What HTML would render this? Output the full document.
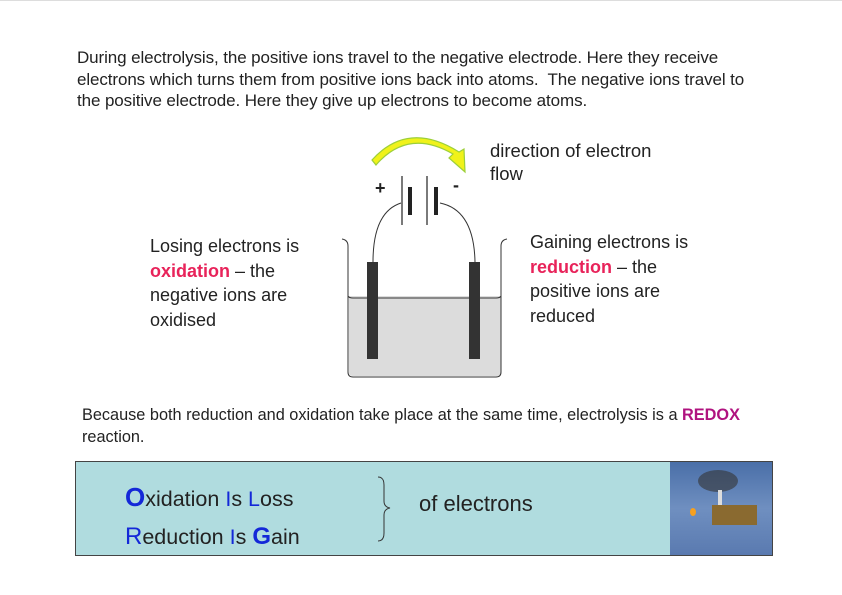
<!DOCTYPE html>
<html><head><style>
body{margin:0;width:842px;height:595px;background:#fff;position:relative;font-family:"Liberation Sans",sans-serif;color:#222;overflow:hidden}
.t{position:absolute;font-size:17px;line-height:21.5px;white-space:nowrap}
.b{font-weight:bold}
</style></head><body>
<div style="position:absolute;left:0;top:0;width:842px;height:1px;background:#ddd"></div>
<div class="t" style="left:77px;top:47px;letter-spacing:-0.1px">During electrolysis, the positive ions travel to the negative electrode. Here they receive<br>electrons which turns them from positive ions back into atoms.&nbsp; The negative ions travel to<br>the positive electrode. Here they give up electrons to become atoms.</div>
<div class="t" style="left:490px;top:139px;font-size:18.5px;line-height:23px">direction of electron<br>flow</div>
<div class="t" style="left:150px;top:234px;font-size:18px;line-height:24.5px">Losing electrons is<br><span class="b" style="color:#e8235a">oxidation</span> – the<br>negative ions are<br>oxidised</div>
<div class="t" style="left:530px;top:230px;font-size:18px;line-height:24.5px">Gaining electrons is<br><span class="b" style="color:#e8235a">reduction</span> – the<br>positive ions are<br>reduced</div>
<svg style="position:absolute;left:0;top:0" width="842" height="595">
<path d="M349 296 L349 372 Q349 376 353 376 L497 376 Q501 376 501 372 L501 296 Z" fill="#dcdcdc"/>
<path d="M342 239 Q348 240 348 246 L348 372 Q348 377 353 377 L496 377 Q501 377 501 372 L501 246 Q501 240 507 239" fill="none" stroke="#333" stroke-width="1"/>
<path d="M348 296 Q349 298 353 298 L496 298 Q500 298 501 296" fill="none" stroke="#333" stroke-width="1"/>
<rect x="367" y="262" width="11" height="97" fill="#333"/>
<rect x="469" y="262" width="11" height="97" fill="#333"/>
<path d="M373 262 Q373 212 401 203" fill="none" stroke="#333"/>
<path d="M440 203 Q474 210 475 262" fill="none" stroke="#333"/>
<line x1="402" y1="176" x2="402" y2="225" stroke="#333" stroke-width="1.3"/>
<rect x="408" y="187" width="4" height="28" fill="#222"/>
<line x1="427" y1="176" x2="427" y2="225" stroke="#333" stroke-width="1.3"/>
<rect x="434" y="187" width="4" height="28" fill="#222"/>
<text x="375" y="194" font-size="18" font-weight="bold" fill="#222">+</text>
<text x="453" y="191" font-size="18" font-weight="bold" fill="#222">-</text>
<path d="M376 165 Q408 128 453 154 L449 158 L465 172 L464 149 L459 152 Q408 120 372 160 Z" fill="#f0f21a" stroke="#9ccf3a" stroke-width="1.2"/>
</svg>
<div class="t" style="left:82px;top:405px;font-size:16.3px">Because both reduction and oxidation take place at the same time, electrolysis is a <span class="b" style="color:#b0127f">REDOX</span><br>reaction.</div>
<div style="position:absolute;left:75px;top:461px;width:696px;height:93px;background:#b0dcdf;border:1px solid #444"></div>
<div style="position:absolute;left:670px;top:462px;width:102px;height:93px;background:linear-gradient(#4a6fa8,#6f8fc0 50%,#5a7ab0)"></div>
<div style="position:absolute;left:698px;top:470px;width:40px;height:22px;background:#333;border-radius:50%;opacity:.6"></div>
<div style="position:absolute;left:712px;top:505px;width:45px;height:20px;background:#8a6a30"></div>
<div style="position:absolute;left:718px;top:490px;width:4px;height:15px;background:#ddd"></div>
<div style="position:absolute;left:690px;top:508px;width:6px;height:8px;background:#f6a020;border-radius:50%"></div>
<div class="t" style="left:125px;top:478px;font-size:21.5px;line-height:38px"><span style="color:#1428d8;font-size:26px;font-weight:bold">O</span>xidation <span style="color:#1428d8">I</span>s <span style="color:#1428d8">L</span>oss<br><span style="color:#1428d8;font-size:24px">R</span>eduction <span style="color:#1428d8">I</span>s <span style="color:#1428d8;font-size:24px;font-weight:bold">G</span>ain</div>
<svg style="position:absolute;left:370px;top:475px" width="30" height="70"><path d="M8 2 Q14 2 14 10 L14 26 Q14 32 20 33 Q14 34 14 40 L14 58 Q14 66 8 66" fill="none" stroke="#333"/></svg>
<div class="t" style="left:419px;top:493px;font-size:22px">of electrons</div>
</body></html>
